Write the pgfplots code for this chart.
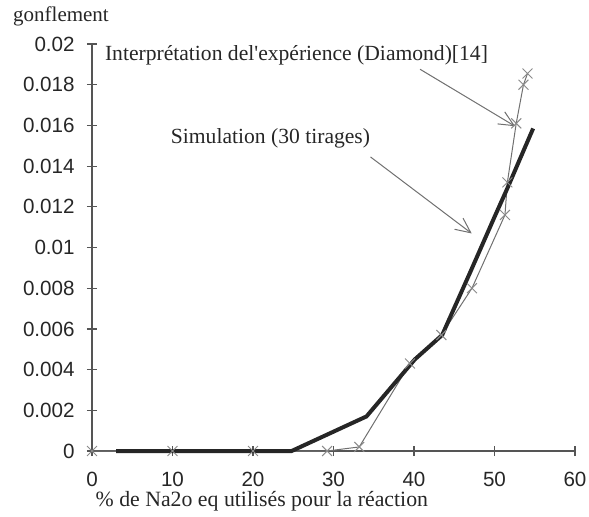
\documentclass[border=0pt]{standalone}
\usepackage{fontspec}
\setmainfont{Liberation Serif}[Ligatures=TeXOff]
\setsansfont{Liberation Sans}
\usepackage{pgfplots}
\pgfplotsset{compat=1.18}
\usetikzlibrary{arrows.meta}
\definecolor{axgray}{HTML}{555555}
\definecolor{thingray}{HTML}{707070}
\definecolor{markgray}{HTML}{8A8A8A}
\definecolor{thickc}{HTML}{262626}
\begin{document}
\begin{tikzpicture}
\begin{axis}[
  scale only axis,
  width=241.5pt, height=203.5pt,
  xmin=0, xmax=60, ymin=0, ymax=0.02,
  axis lines=left,
  axis line style={axgray, line width=0.6pt, -},
  xtick={0,10,20,30,40,50,60},
  ytick={0,0.002,0.004,0.006,0.008,0.01,0.012,0.014,0.016,0.018,0.02},
  yticklabels={0,0.002,0.004,0.006,0.008,0.01,0.012,0.014,0.016,0.018,0.02},
  scaled y ticks=false,
  tick align=center,
  major tick length=5pt,
  tick style={axgray, line width=0.6pt},
  tick label style={font=\sffamily\fontsize{10.3}{12}\selectfont, text=black!85},
  /pgf/number format/assume math mode=true,
  xticklabel style={anchor=north, inner sep=0pt, yshift=-8pt},
  yticklabel style={anchor=east, inner sep=0pt, xshift=-6pt},
  clip=false,
]
% Interpretation de l'experience (Diamond)
\addplot[thingray, line width=0.5pt, mark=x, mark size=3.5pt,
  mark options={markgray, line width=0.5pt}] coordinates {
  (0,0) (10,0) (20,0) (29.2,0) (33.2,0.0002) (39.5,0.0043) (43.4,0.0057)
  (47.2,0.0080) (51.3,0.0116) (51.6,0.0132) (52.7,0.0161) (53.6,0.0180) (54.1,0.01855)
};
% Simulation (30 tirages)
\addplot[thickc, line width=2pt, no markers] coordinates {
  (3,0) (24.8,0) (34.1,0.0017) (40.1,0.0045) (43.5,0.0057)
  (47,0.0088) (50,0.0115) (51.7,0.0130) (53,0.0142) (54.8,0.01585)
};
\draw[thingray, line width=0.5pt, -{Straight Barb[length=7.5pt,width=7pt]}]
  (axis cs:40.75,0.01876) -- (axis cs:52.55,0.01596);
\draw[thingray, line width=0.5pt, -{Straight Barb[length=7.5pt,width=7pt]}]
  (axis cs:34.6,0.01445) -- (axis cs:47.17,0.01069);
\node[font=\fontsize{10.8}{12}\selectfont, text=black!85, inner sep=0pt]
  at (axis cs:25.4,0.01945) {Interprétation del'expérience (Diamond)[14]};
\node[font=\fontsize{10.8}{12}\selectfont, text=black!85, inner sep=0pt]
  at (axis cs:22.17,0.01537) {Simulation (30 tirages)};
\node[font=\fontsize{10.5}{12}\selectfont, text=black!85, inner sep=0pt]
  at (rel axis cs:0,1) [xshift=-15.5pt, yshift=14pt] {gonflement};
\node[font=\fontsize{10.9}{12}\selectfont, text=black!85, inner sep=0pt]
  at (axis cs:21.1,0) [yshift=-25pt] {\% de Na2o eq utilisés pour la réaction};
\end{axis}
\pgfresetboundingbox
\path (-46pt,-32.5pt) rectangle (248.5pt,225.5pt);
\end{tikzpicture}
\end{document}
